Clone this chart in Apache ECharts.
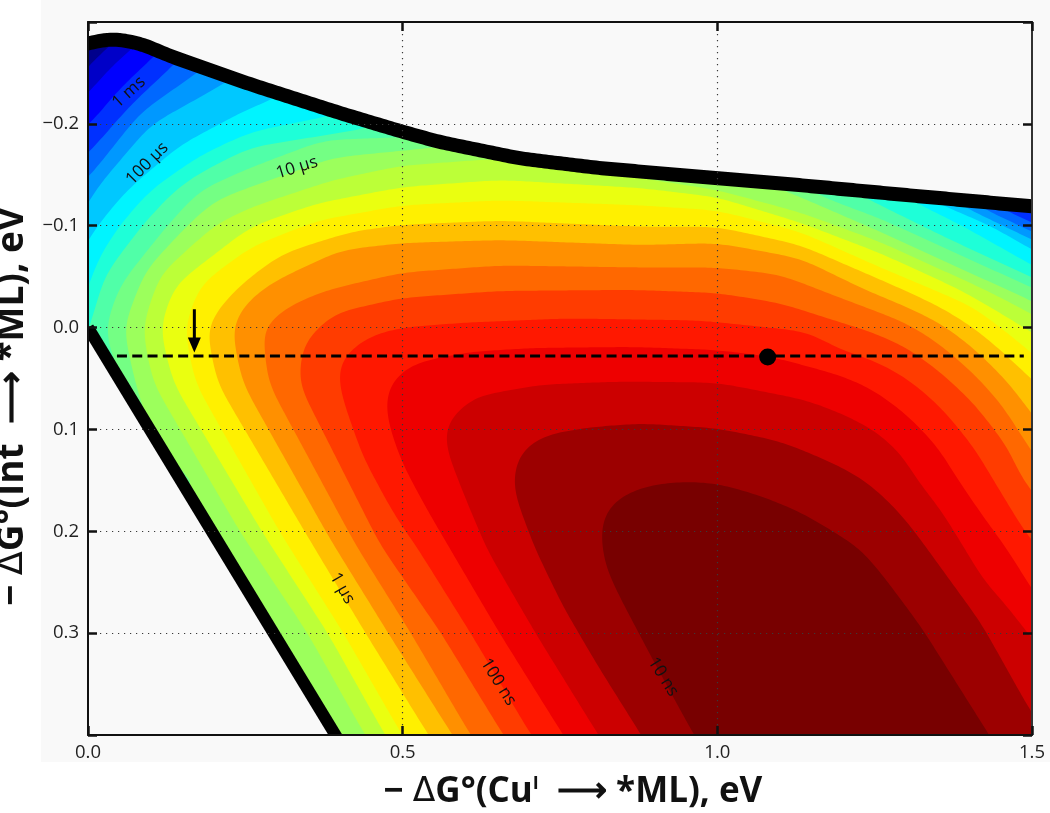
<!DOCTYPE html>
<html><head><meta charset="utf-8">
<style>html,body{margin:0;padding:0;background:#fff}#c{width:1050px;height:813px}</style>
<script src="https://cdn.jsdelivr.net/npm/echarts@6/dist/echarts.min.js"></script>
</head><body><div id="c"></div>
<script>
const xTicks=[0,0.5,1,1.5];
const yTicks=[-0.3,-0.2,-0.1,0,0.1,0.2,0.3,0.4];
const bandColors=['#00008c','#0000c8','#0000ff','#0030ff','#0068ff','#0098ff','#00c8ff','#00f4ff','#1effd8','#50ffa8','#74ff84','#9cff5c','#bcff38','#eaff10','#fff000','#ffc000','#ff9000','#ff6800','#ff3c00','#ff1800','#ee0000','#cc0000','#9c0000','#780000'];
const wholeField=[[-0.1,-0.4],[1.6,-0.4]];
const c01=[[-.013,-.247],[.002,-.257],[.019,-.269],[.038,-.278],[.059,-.290]];
const c02=[[-.013,-.223],[.002,-.231],[.035,-.255],[.070,-.274],[.091,-.286]];
const c03=[[-.013,-.192],[.002,-.199],[.051,-.235],[.103,-.265],[.122,-.277]];
const c04=[[-.013,-.164],[.002,-.172],[.067,-.218],[.138,-.259],[.157,-.272]];
const c04r=[[1.434,-.125],[1.450,-.117],[1.501,-.103],[1.522,-.097]];
const c05=[[-.013,-.140],[.002,-.148],[.083,-.211],[.173,-.250],[.194,-.260]];
const c05r=[[1.399,-.127],[1.418,-.118],[1.501,-.094],[1.522,-.088]];
const c06=[[-.013,-.110],[.002,-.123],[.011,-.135],[.099,-.199],[.218,-.240],[.242,-.251]];
const c06r=[[1.371,-.127],[1.390,-.119],[1.501,-.086],[1.522,-.080]];
const c07=[[-.013,-.071],[0,-.086],[.016,-.101],[.062,-.135],[.146,-.179],[.258,-.216],[.301,-.225],[.321,-.238]];
const c07r=[[1.331,-.130],[1.350,-.122],[1.434,-.100],[1.501,-.076],[1.522,-.070]];
const c08=[[-.013,-.017],[0,-.040],[.019,-.071],[.051,-.101],[.099,-.135],[.178,-.169],[.258,-.192],[.401,-.210],[.417,-.218]];
const c08r=[[1.291,-.133],[1.310,-.124],[1.386,-.101],[1.501,-.061],[1.522,-.054]];
const c09=[[-.005,.012],[.003,-.002],[.027,-.052],[.087,-.101],[.138,-.135],[.178,-.152],[.258,-.177],[.448,-.196],[.480,-.206]];
const c09r=[[1.212,-.135],[1.259,-.120],[1.371,-.086],[1.501,-.049],[1.522,-.043]];
const c10=[[.067,.071],[.035,.022],[.027,0],[.051,-.042],[.127,-.101],[.178,-.135],[.258,-.157],[.374,-.184],[.501,-.187],[.560,-.189]];
const c10r=[[1.132,-.139],[1.180,-.125],[1.259,-.107],[1.386,-.071],[1.501,-.039],[1.522,-.033]];
const c11=[[.162,.150],[.099,.101],[.075,.054],[.056,0],[.091,-.056],[.159,-.101],[.202,-.125],[.258,-.138],[.390,-.167],[.555,-.177],[.623,-.184]];
const c11r=[[1.084,-.140],[1.132,-.128],[1.259,-.094],[1.386,-.058],[1.461,-.037],[1.498,-.027],[1.522,-.018]];
const c12=[[.452,.410],[.440,.400],[.348,.299],[.242,.201],[.103,.054],[.086,0],[.114,-.052],[.202,-.101],[.258,-.118],[.390,-.145],[.499,-.159],[.655,-.166],[.814,-.153],[1.000,-.135],[1.132,-.113],[1.259,-.084],[1.426,-.037],[1.498,-.014],[1.522,-.005]];
const c13=[[.483,.410],[.472,.400],[.380,.299],[.277,.201],[.135,.054],[.114,0],[.138,-.042],[.258,-.099],[.364,-.122],[.499,-.138],[.655,-.145],[.878,-.137],[1.000,-.128],[1.132,-.103],[1.259,-.073],[1.386,-.037],[1.434,-.020],[1.498,.004],[1.522,.014]];
const c14=[[.510,.410],[.499,.400],[.405,.299],[.305,.201],[.170,.054],[.153,0],[.178,-.042],[.258,-.079],[.364,-.105],[.499,-.120],[.655,-.125],[.878,-.120],[1.000,-.115],[1.132,-.094],[1.259,-.059],[1.344,-.037],[1.407,-.020],[1.450,0],[1.498,.024],[1.522,.037]];
const c15=[[.552,.410],[.541,.400],[.440,.299],[.345,.201],[.205,.054],[.188,0],[.218,-.027],[.258,-.050],[.310,-.073],[.417,-.094],[.499,-.101],[.655,-.105],[.878,-.099],[1.000,-.099],[1.132,-.081],[1.259,-.047],[1.296,-.037],[1.355,-.020],[1.407,0],[1.450,.022],[1.498,.050],[1.522,.063]];
const c16=[[.590,.410],[.579,.400],[.476,.299],[.385,.208],[.245,.054],[.228,0],[.250,-.024],[.294,-.045],[.401,-.076],[.499,-.083],[.655,-.086],[.878,-.081],[1.000,-.083],[1.132,-.068],[1.235,-.037],[1.302,-.020],[1.355,-.004],[1.407,.020],[1.461,.053],[1.498,.083],[1.522,.103]];
const c17=[[.619,.410],[.608,.400],[.512,.299],[.425,.213],[.286,.054],[.277,0],[.321,-.022],[.380,-.037],[.499,-.054],[.655,-.061],[.878,-.059],[1.000,-.059],[1.100,-.052],[1.196,-.029],[1.248,-.017],[1.302,-.004],[1.355,.017],[1.407,.045],[1.450,.074],[1.498,.120],[1.522,.142]];
const c18=[[.671,.410],[.660,.400],[.560,.299],[.464,.213],[.334,.054],[.342,.015],[.390,-.014],[.496,-.029],[.655,-.036],[.867,-.037],[1.000,-.034],[1.100,-.024],[1.196,-.005],[1.248,.005],[1.302,.020],[1.355,.044],[1.407,.074],[1.461,.117],[1.485,.150],[1.501,.161],[1.522,.179]];
const c19=[[.716,.410],[.704,.400],[.607,.299],[.525,.218],[.485,.182],[.437,.127],[.405,.071],[.396,.045],[.404,.029],[.444,.009],[.496,0],[.603,-.005],[.762,-.009],[.973,-.007],[1.143,.004],[1.196,.022],[1.248,.032],[1.302,.050],[1.355,.078],[1.407,.117],[1.439,.150],[1.487,.199],[1.501,.210],[1.522,.226]];
const c20=[[.766,.410],[.755,.400],[.653,.299],[.576,.218],[.539,.179],[.499,.133],[.477,.094],[.472,.068],[.485,.050],[.517,.035],[.603,.024],[.708,.020],[.867,.019],[1.000,.022],[1.089,.029],[1.196,.047],[1.248,.061],[1.302,.086],[1.350,.117],[1.383,.150],[1.423,.186],[1.461,.218],[1.498,.255],[1.522,.277]];
const c21=[[.822,.410],[.811,.400],[.711,.300],[.634,.218],[.596,.162],[.568,.117],[.568,.094],[.612,.068],[.719,.056],[.846,.053],[1.000,.054],[1.140,.071],[1.196,.084],[1.248,.100],[1.291,.123],[1.318,.150],[1.355,.179],[1.391,.215],[1.423,.248],[1.461,.274],[1.498,.304],[1.522,.321]];
const c22=[[.889,.410],[.878,.399],[.811,.333],[.755,.274],[.711,.218],[.681,.169],[.674,.148],[.688,.120],[.728,.105],[.795,.098],[.878,.094],[1.002,.099],[1.102,.112],[1.184,.133],[1.235,.150],[1.286,.179],[1.318,.204],[1.366,.245],[1.419,.290],[1.498,.377],[1.522,.398]];
const c23=[[.973,.410],[.962,.399],[.900,.329],[.847,.267],[.822,.235],[.814,.202],[.820,.182],[.844,.166],[.889,.155],[.945,.151],[1.001,.153],[1.073,.166],[1.135,.182],[1.197,.205],[1.229,.218],[1.265,.245],[1.324,.294],[1.377,.346],[1.431,.399],[1.442,.410]];
const topBoundary=[[-.02,-.276],[0,-.279],[.038,-.284],[.083,-.279],[.135,-.2655],[.262,-.238],[.401,-.2105],[.501,-.192],[.560,-.182],[.687,-.166],[.814,-.1565],[1.0,-.1467],[1.132,-.1398],[1.302,-.130],[1.5,-.119],[1.52,-.118]];
const lowerBoundary=[[0,0],[.405,.412]];
const refLineY=.028, refLineX=[.046,1.487];
const refPoint=[1.08,.029];
const arrowX=.169, arrowY=[-.018,.017];
const contourLabels=['1 ms','100 µs','10 µs','1 µs','100 ns','10 ns'];
const contourLabelX=[.065,.094,.332,.404,.652,.914];
const contourLabelY=[-.231,-.161,-.157,.256,.348,.343];
const contourLabelAngle=[-42,-45,-17,60,58,58];
const xTitleRich='{a|− }{d|Δ}{a|G°(Cu}{s|I}{a|  ⟶ *ML), eV}';
const yTitleRich='{a|− }{d|Δ}{a|G°(Int  ⟶ *ML), eV}';

const bands=[[wholeField],[c01],[c02],[c03],[c04,c04r],[c05,c05r],[c06,c06r],[c07,c07r],[c08,c08r],[c09,c09r],[c10,c10r],[c11,c11r],[c12],[c13],[c14],[c15],[c16],[c17],[c18],[c19],[c20],[c21],[c22],[c23]];

// even out a drawn curve in pixel space so the read-off points join without kinks
function smooth(p,win,passes){
  if(p.length<3) return p;
  const step=3,out=[p[0].slice()];
  let carry=0;
  for(let i=0;i<p.length-1;i++){
    const a=p[i],b=p[i+1],len=Math.hypot(b[0]-a[0],b[1]-a[1]);
    let d=step-carry;
    while(d<len){out.push([a[0]+(b[0]-a[0])*d/len,a[1]+(b[1]-a[1])*d/len]);d+=step;}
    carry=(carry+len)%step;
  }
  out.push(p[p.length-1].slice());
  let cur=out;
  for(let s=0;s<passes;s++){
    cur=cur.map((q,i)=>{
      const w=Math.min(win,i,cur.length-1-i);let x=0,y=0;
      for(let k=-w;k<=w;k++){x+=cur[i+k][0];y+=cur[i+k][1];}
      return [x/(2*w+1),y/(2*w+1)];
    });
  }
  return cur;
}
const axisFont='"Open Sans"';
const mkRich=size=>({
  a:{fontFamily:'"Open Sans"',fontWeight:'bold',fontSize:size,color:'#111'},
  d:{fontFamily:'"DejaVu Sans"',fontWeight:'normal',fontSize:size-2,color:'#111'},
  s:{fontFamily:'"Open Sans"',fontWeight:'bold',fontSize:18,color:'#111',verticalAlign:'top',padding:[0,0,12,0]}
});
const fmtNum=v=>{const s=Math.abs(v).toFixed(1);return v<-1e-9?'−'+s:s;};
const grid={left:88,right:18,top:22,bottom:78,outerBoundsMode:'none'};
const mkX=(pos,show)=>({type:'value',position:pos,min:0,max:1.5,interval:.5,z:3,
  axisLine:{show:true,onZero:false,lineStyle:{color:'#111',width:2}},
  axisTick:{show:true,inside:true,length:9,lineStyle:{color:'#111',width:2.5}},
  axisLabel:{show:show,color:'#222',fontFamily:axisFont,fontSize:18.5,margin:8,formatter:fmtNum},
  splitLine:{show:show,showMinLine:false,showMaxLine:false,lineStyle:{color:'#3a3a3a',width:1.2,type:[1.2,4.8]}}});
const mkY=(pos,show)=>({type:'value',position:pos,inverse:true,min:-.3,max:.4,interval:.1,z:3,
  axisLine:{show:true,onZero:false,lineStyle:{color:pos==='right'?'#333':'#111',width:2}},
  axisTick:{show:true,inside:true,length:9,lineStyle:{color:'#111',width:2.5}},
  axisLabel:{show:show,color:'#222',fontFamily:axisFont,fontSize:18.5,margin:9,formatter:v=>(Math.abs(v+.3)<1e-6||Math.abs(v-.4)<1e-6)?'':fmtNum(v)},
  splitLine:{show:show,showMinLine:false,showMaxLine:false,lineStyle:{color:'#3a3a3a',width:1.2,type:[1.2,4.8]}}});
const xa0=mkX('bottom',true),ya0=mkY('left',true);
Object.assign(xa0,{name:xTitleRich,nameLocation:'middle',nameGap:40,nameTextStyle:{rich:mkRich(35),padding:[0,0,0,26]}});
Object.assign(ya0,{name:yTitleRich,nameLocation:'middle',nameGap:57,nameRotate:90,nameTextStyle:{rich:mkRich(37),padding:[0,56,0,0]}});

const chart=echarts.init(document.getElementById('c'),null,{renderer:'canvas'});
chart.setOption({
  animation:false,backgroundColor:'#fff',
  graphic:[{type:'rect',z:-10,silent:true,shape:{x:41,y:0,width:1009,height:762},style:{fill:'#f9f9f9'}}],
  grid,xAxis:[xa0,mkX('top',false)],yAxis:[ya0,mkY('right',false)],
  series:[
   {type:'custom',coordinateSystem:'cartesian2d',clip:true,z:2,silent:true,
    data:bands.map((_,i)=>[i]),
    renderItem(params,api){
      const bs=bands[params.dataIndex];
      let pts=[];
      bs.forEach(b=>{pts=pts.concat(smooth(b.map(p=>api.coord(p)),4,3));});
      const last=bs[bs.length-1][bs[bs.length-1].length-1],first=bs[0][0];
      pts.push(api.coord([1.6,last[1]]),api.coord([1.6,.5]),api.coord([first[0],.5]));
      return {type:'polygon',shape:{points:pts},style:{fill:bandColors[params.dataIndex]}};
    }},
   {type:'custom',coordinateSystem:'cartesian2d',clip:true,z:2,silent:true,
    data:[[0]],
    renderItem(params,api){
      const t=smooth(topBoundary.map(p=>api.coord(p)),3,2);
      const l=lowerBoundary.map(p=>api.coord(p));
      const tm=t.concat([api.coord([1.6,-.119]),api.coord([1.6,-.4]),api.coord([-.1,-.4])]);
      const lm=l.concat([api.coord([.405,.5]),api.coord([-.1,.5]),api.coord([-.1,0])]);
      const bg='#f9f9f9';
      return {type:'group',children:[
        {type:'polygon',shape:{points:tm},style:{fill:bg}},
        {type:'polygon',shape:{points:lm},style:{fill:bg}},
        {type:'polyline',shape:{points:t},style:{fill:null,stroke:'#000',lineWidth:14,lineJoin:'round'}},
        {type:'polyline',shape:{points:l},style:{fill:null,stroke:'#000',lineWidth:12}}
      ]};
    }},
   {type:'line',z:4,silent:true,showSymbol:false,symbol:'none',data:[[refLineX[0],refLineY],[refLineX[1],refLineY]],
    lineStyle:{color:'#000',width:3,type:[10,5.3]}},
   {type:'line',z:4,silent:true,data:[{value:[arrowX,arrowY[0]],symbol:'none'},{value:[arrowX,arrowY[1]],symbol:'triangle',symbolSize:[13,15],symbolRotate:180}],
    showSymbol:true,itemStyle:{color:'#000'},lineStyle:{color:'#000',width:3}},
   {type:'scatter',z:4,silent:true,data:[refPoint],symbolSize:17,itemStyle:{color:'#000',opacity:1}},
   {type:'custom',coordinateSystem:'cartesian2d',z:4,silent:true,clip:false,
    data:contourLabels.map((_,i)=>[contourLabelX[i],contourLabelY[i]]),
    renderItem(params,api){
      const i=params.dataIndex,c=api.coord([contourLabelX[i],contourLabelY[i]]);
      return {type:'text',x:c[0],y:c[1],rotation:-contourLabelAngle[i]*Math.PI/180,
        style:{text:contourLabels[i],fontFamily:axisFont,fontSize:17,fill:'#111',align:'center',verticalAlign:'middle'}};
    }}
  ]
});
</script></body></html>
